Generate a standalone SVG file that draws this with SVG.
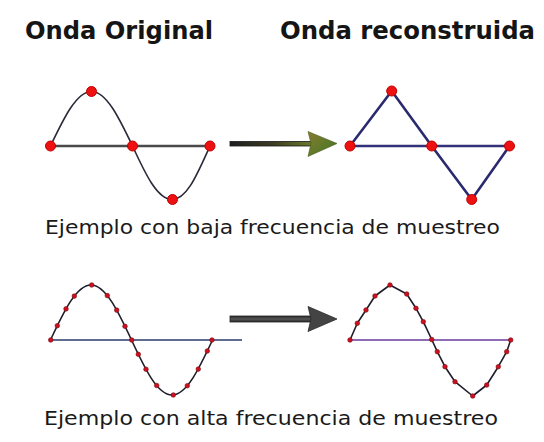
<svg xmlns="http://www.w3.org/2000/svg" width="544" height="442" viewBox="0 0 544 442">
<style>
.title{font-family:"DejaVu Sans","Liberation Sans",sans-serif;font-weight:bold;font-size:24px;fill:#151515}
.cap{font-family:"DejaVu Sans","Liberation Sans",sans-serif;font-size:19px;fill:#1a1a1a}
.wave{fill:none;stroke:#2a2a3a;stroke-width:1.6}
.axisg{stroke:#4a4a4a;stroke-width:2.5}
.recon{fill:none;stroke:#2b2a6e;stroke-width:2.6;stroke-linejoin:round}
.bigdot{fill:#ee1111;stroke:#c00000;stroke-width:1}
.smalldot{fill:#cc1020;stroke:#7a0a10;stroke-width:0.6}
.fine{fill:none;stroke:#1e1e2a;stroke-width:1.6;stroke-linejoin:round}
</style>
<defs>
<linearGradient id="gbody" x1="0" y1="0" x2="1" y2="0">
<stop offset="0" stop-color="#1e1e1e"/>
<stop offset="0.5" stop-color="#3a3a22"/>
<stop offset="1" stop-color="#6b7a2a"/>
</linearGradient>
<linearGradient id="ghead" x1="0" y1="0" x2="1" y2="1">
<stop offset="0" stop-color="#8a7a30"/>
<stop offset="0.6" stop-color="#5a7a28"/>
<stop offset="1" stop-color="#3f6a22"/>
</linearGradient>
<linearGradient id="ggray" x1="0" y1="0" x2="0" y2="1">
<stop offset="0" stop-color="#2a2a2a"/>
<stop offset="0.5" stop-color="#555"/>
<stop offset="1" stop-color="#2a2a2a"/>
</linearGradient>
</defs>
<rect width="544" height="442" fill="#ffffff"/>

<g id="titles">
<text class="title" x="25" y="38.5" textLength="188" lengthAdjust="spacingAndGlyphs">Onda Original</text>
<text class="title" x="280" y="38.5" textLength="255" lengthAdjust="spacingAndGlyphs">Onda reconstruida</text>
</g>

<g id="orig-low">
<line class="axisg" x1="50" y1="146" x2="210" y2="146"/>
<path class="wave" d="M50.5,146 C63.8,118.1 76.6,91.5 91.5,91.5 C106.4,91.5 119.2,118.1 132.5,146 C145.1,173.3 157.2,199.5 172.2,199.5 C187.2,199.5 197.5,173.3 210,146"/>
<circle class="bigdot" cx="50.5" cy="146" r="5"/>
<circle class="bigdot" cx="91.5" cy="91.5" r="5"/>
<circle class="bigdot" cx="132.5" cy="146" r="5"/>
<circle class="bigdot" cx="172.5" cy="199.5" r="5"/>
<circle class="bigdot" cx="210" cy="146" r="5"/>
</g>

<g id="recon-low">
<line x1="350" y1="146" x2="509.5" y2="146" stroke="#33307a" stroke-width="2.6"/>
<polyline class="recon" points="350,146 391.7,91 431.7,146 471.7,199.5 509.5,146"/>
<circle class="bigdot" cx="350" cy="146" r="5"/>
<circle class="bigdot" cx="391.7" cy="91" r="5"/>
<circle class="bigdot" cx="431.7" cy="146" r="5"/>
<circle class="bigdot" cx="471.7" cy="199.5" r="5"/>
<circle class="bigdot" cx="509.5" cy="146" r="5"/>
</g>

<g id="caption-low">
<text class="cap" x="45" y="234" textLength="455" lengthAdjust="spacingAndGlyphs">Ejemplo con baja frecuencia de muestreo</text>
</g>

<g id="orig-high">
<line x1="50" y1="340" x2="242" y2="340" stroke="#2a3a6a" stroke-width="1.6"/>
<path class="fine" d="M50.5,340 C63.7,311.8 76.3,285 91,285 C105.7,285 118.3,311.8 131.5,340 C144.7,368.2 157.3,395 172,395 C186.7,395 199.3,368.2 212.5,340"/>
<g class="smalldot">
<circle cx="50.7" cy="340" r="2.3"/>
<circle cx="57.3" cy="325.7" r="2.3"/>
<circle cx="66" cy="308.9" r="2.3"/>
<circle cx="74.3" cy="296.1" r="2.3"/>
<circle cx="91.7" cy="285" r="2.3"/>
<circle cx="107.3" cy="295.6" r="2.3"/>
<circle cx="116.7" cy="310.1" r="2.3"/>
<circle cx="125" cy="326.3" r="2.3"/>
<circle cx="131.7" cy="340" r="2.3"/>
<circle cx="138.3" cy="354.3" r="2.3"/>
<circle cx="146" cy="369.2" r="2.3"/>
<circle cx="156.7" cy="385.5" r="2.3"/>
<circle cx="173.3" cy="395" r="2.3"/>
<circle cx="187.3" cy="385.7" r="2.3"/>
<circle cx="198.3" cy="369.1" r="2.3"/>
<circle cx="207.3" cy="351" r="2.3"/>
<circle cx="212" cy="340" r="2.3"/>
</g>
</g>

<g id="recon-high">
<line x1="350" y1="340" x2="511" y2="340" stroke="#6a3a9a" stroke-width="1.6"/>
<polyline class="fine" points="350,340 357.3,323.3 366,310 375,296 390,285 406.7,294 416,308.3 423.3,321.7 431.7,339.5 437.3,351.7 445,366.7 455,381.7 472.7,396 486.7,385 498.3,366.7 506.7,351.7 510.7,340"/>
<g class="smalldot">
<circle cx="350" cy="340" r="2.3"/>
<circle cx="357.3" cy="323.3" r="2.3"/>
<circle cx="366" cy="310" r="2.3"/>
<circle cx="375" cy="296" r="2.3"/>
<circle cx="390" cy="285" r="2.3"/>
<circle cx="406.7" cy="294" r="2.3"/>
<circle cx="416" cy="308.3" r="2.3"/>
<circle cx="423.3" cy="321.7" r="2.3"/>
<circle cx="431.7" cy="339.5" r="2.3"/>
<circle cx="437.3" cy="351.7" r="2.3"/>
<circle cx="445" cy="366.7" r="2.3"/>
<circle cx="455" cy="381.7" r="2.3"/>
<circle cx="472.7" cy="396" r="2.3"/>
<circle cx="486.7" cy="385" r="2.3"/>
<circle cx="498.3" cy="366.7" r="2.3"/>
<circle cx="506.7" cy="351.7" r="2.3"/>
<circle cx="510.7" cy="340" r="2.3"/>
</g>
</g>

<g id="caption-high">
<text class="cap" x="44" y="425" textLength="454" lengthAdjust="spacingAndGlyphs">Ejemplo con alta frecuencia de muestreo</text>
</g>

<g id="connectors">
<rect x="230" y="141.5" width="82" height="4.5" fill="url(#gbody)" stroke="#1a1a1a" stroke-width="0.8"/>
<polygon points="308,131.5 337,143.5 308,156.5 311,143.5" fill="url(#ghead)" stroke="#4a5a20" stroke-width="0.6"/>
<rect x="230" y="316" width="82" height="6" fill="url(#ggray)" stroke="#222" stroke-width="0.8"/>
<polygon points="308,306.5 337,319 308,331.5 311,319" fill="#444" stroke="#2a2a2a" stroke-width="0.8"/>
</g>
</svg>
